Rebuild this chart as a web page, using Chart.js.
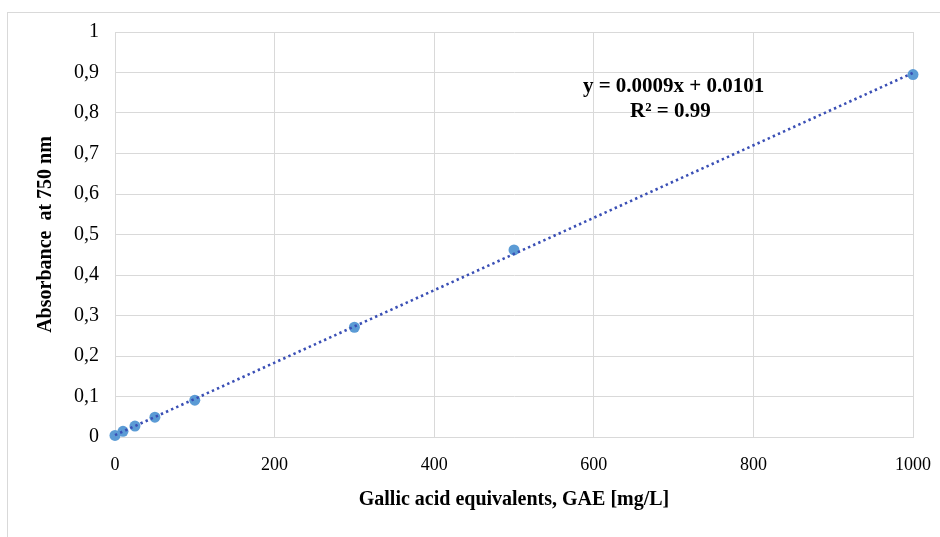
<!DOCTYPE html>
<html>
<head>
<meta charset="utf-8">
<script src="https://cdn.jsdelivr.net/npm/chart.js@4.4.1/dist/chart.umd.min.js"></script>
<style>
  html, body { margin: 0; padding: 0; background: #fff; }
  #wrap { position: relative; width: 940px; height: 537px; overflow: hidden; }
  #frame { position: absolute; left: 7px; top: 12px; width: 960px; height: 600px; border: 1px solid #d9d9d9; }
  canvas { position: absolute; left: 0; top: 0; }
</style>
</head>
<body>
<div id="wrap">
  <div id="frame"></div>
  <canvas id="chart" width="940" height="537"></canvas>
</div>
<script>
/* globals Chart:false */

// concentrations (mg/L GAE) and absorbance
var gae = [0, 10, 25, 50, 100, 300, 500, 1000]
var absorbance = [0.004, 0.014, 0.027, 0.049, 0.091, 0.271, 0.462, 0.895]

var xTickLabels = ['0', '200', '400', '600', '800', '1000']
var yTickLabels = ['0', '0,1', '0,2', '0,3', '0,4', '0,5', '0,6', '0,7', '0,8', '0,9', '1']

var equationText = ['y = 0.0009x + 0.0101', 'R\u00b2 = 0.99']

;(function () {
  'use strict'

  // linear trendline (least squares) like Excel does it
  var n = gae.length
  var sx = 0, sy = 0, sxx = 0, sxy = 0
  for (var i = 0; i < n; i++) {
    sx += gae[i]; sy += absorbance[i]
    sxx += gae[i] * gae[i]; sxy += gae[i] * absorbance[i]
  }
  var slope = (n * sxy - sx * sy) / (n * sxx - sx * sx)
  var intercept = (sy - slope * sx) / n
  var xFirst = gae[0]
  var xLast = gae[n - 1]

  var serif = 'Liberation Serif, Times New Roman, serif'

  var equationPlugin = {
    id: 'equation',
    afterDatasetsDraw: function (chart) {
      var c = chart.ctx
      var xs = chart.scales.x
      var ys = chart.scales.y
      c.save()
      c.font = 'bold 21px ' + serif
      c.fillStyle = '#000'
      c.textAlign = 'center'
      c.textBaseline = 'middle'
      c.fillText(equationText[0], xs.getPixelForValue(700), ys.getPixelForValue(0.866))
      c.fillText(equationText[1], xs.getPixelForValue(696), ys.getPixelForValue(0.804))
      c.restore()
    }
  }

  var ctx = document.getElementById('chart')

  var config = {
    type: 'scatter',
    data: {
      datasets: [{
        label: 'Linear trend',
        data: [
          { x: xFirst, y: intercept + slope * xFirst },
          { x: xLast, y: intercept + slope * xLast }
        ],
        showLine: true,
        borderColor: '#3a4fb5',
        borderWidth: 2.6,
        borderDash: [2.4, 3.2],
        borderCapStyle: 'butt',
        pointRadius: 0,
        fill: false,
        clip: false
      }, {
        label: 'Absorbance',
        data: gae.map(function (x, i) { return { x: x, y: absorbance[i] } }),
        backgroundColor: '#5b9bd5',
        borderColor: '#5b9bd5',
        pointRadius: 5.5,
        pointBorderWidth: 0,
        clip: false
      }]
    },
    options: {
      responsive: false,
      animation: false,
      devicePixelRatio: 1,
      layout: { padding: { left: 0, top: 32, right: 27, bottom: 0 } },
      plugins: {
        legend: { display: false },
        tooltip: { enabled: false }
      },
      scales: {
        x: {
          type: 'linear',
          min: 0,
          max: 1000,
          afterFit: function (s) {
            s.height = 100
            s.paddingLeft = 0
            s.paddingRight = 0
          },
          afterBuildTicks: function (s) {
            s.ticks = xTickLabels.map(function (t, i) { return { value: i * 200 } })
          },
          ticks: {
            padding: 17,
            color: '#000',
            font: { family: serif, size: 18 },
            maxRotation: 0,
            callback: function (v, i) { return xTickLabels[i] }
          },
          grid: { color: '#d9d9d9', lineWidth: 1, drawTicks: false },
          border: { color: '#d9d9d9' },
          title: {
            display: true,
            text: 'Gallic acid equivalents, GAE [mg/L]',
            color: '#000',
            font: { family: serif, size: 20, weight: 'bold' },
            padding: { top: 0, bottom: 25 }
          }
        },
        y: {
          type: 'linear',
          min: 0,
          max: 1,
          afterFit: function (s) {
            s.width = 115
            s.paddingTop = 0
            s.paddingBottom = 0
          },
          afterBuildTicks: function (s) {
            s.ticks = yTickLabels.map(function (t, i) { return { value: i / 10 } })
          },
          ticks: {
            padding: 16,
            color: '#000',
            font: { family: serif, size: 20 },
            callback: function (v, i) { return yTickLabels[i] }
          },
          grid: { color: '#d9d9d9', lineWidth: 1, drawTicks: false },
          border: { color: '#d9d9d9' },
          title: {
            display: true,
            text: 'Absorbance  at 750 nm',
            color: '#000',
            font: { family: serif, size: 20, weight: 'bold' },
            padding: { top: 34, bottom: 0 }
          }
        }
      }
    },
    plugins: [equationPlugin]
  }

  var myChart = new Chart(ctx, config)
})()
</script>
</body>
</html>
